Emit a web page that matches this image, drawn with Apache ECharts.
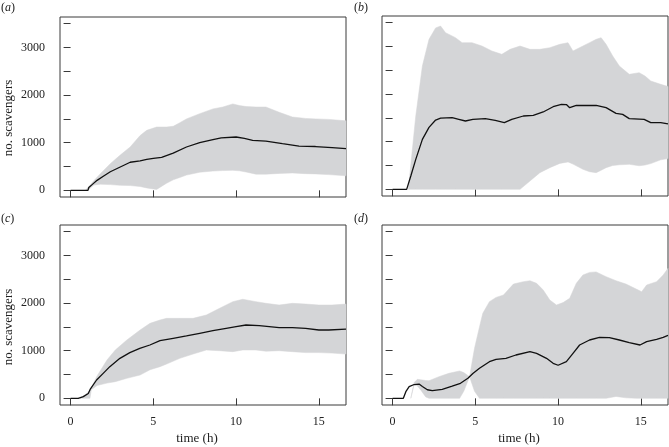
<!DOCTYPE html>
<html>
<head>
<meta charset="utf-8">
<script src="https://cdn.jsdelivr.net/npm/echarts@6/dist/echarts.min.js"></script>
<style>html,body{margin:0;padding:0;background:#fff}#c{width:669px;height:447px}</style>
</head>
<body>
<div id="c"></div>
<script>
// ---------- data ----------
const xTicks = [0, 5, 10, 15];
const yTicks = [0, 500, 1000, 1500, 2000, 2500, 3000, 3500];
const yLabels = [0, 1000, 2000, 3000];

// panel (a)
const meanTA = [0, 1.05, 1.1, 1.3, 1.6, 2.0, 2.4, 3.0, 3.6, 4.2, 4.6, 5.0, 5.5, 6.2, 7.0, 7.8, 8.6, 9.1, 10.0, 10.5, 11.0, 11.8, 12.8, 13.8, 14.8, 15.8, 16.64];
const meanA  = [0, 0, 60, 120, 210, 300, 390, 490, 590, 620, 650, 670, 690, 780, 910, 1000, 1065, 1100, 1120, 1090, 1050, 1035, 980, 930, 920, 895, 875];
const bandTA = [0.9, 1.1, 1.4, 1.8, 2.4, 3.0, 3.6, 4.2, 4.6, 5.2, 5.8, 6.2, 6.6, 7.0, 7.8, 8.6, 9.2, 9.8, 10.2, 10.6, 11.2, 11.8, 12.6, 13.4, 14.2, 14.8, 15.6, 16.64];
const hiA    = [0, 80, 200, 350, 560, 740, 910, 1150, 1260, 1330, 1330, 1345, 1420, 1500, 1610, 1710, 1750, 1815, 1780, 1760, 1750, 1750, 1640, 1540, 1510, 1500, 1490, 1460];
const loA    = [0, 20, 110, 130, 120, 105, 100, 80, 50, 20, 150, 220, 270, 320, 380, 405, 415, 420, 410, 385, 340, 340, 355, 365, 350, 345, 330, 305];

// panel (b)
const meanTB = [0, 0.85, 1.1, 1.4, 1.8, 2.2, 2.6, 2.9, 3.6, 4.0, 4.4, 4.85, 5.6, 6.2, 6.75, 7.2, 7.9, 8.5, 9.1, 9.7, 10.2, 10.5, 10.7, 11.1, 11.7, 12.3, 12.9, 13.5, 13.9, 14.3, 15.2, 15.6, 16.2, 16.64];
const meanB  = [0, 0, 280, 630, 1050, 1300, 1455, 1495, 1505, 1470, 1435, 1470, 1485, 1450, 1400, 1470, 1540, 1555, 1625, 1735, 1785, 1780, 1715, 1765, 1760, 1765, 1715, 1595, 1575, 1485, 1470, 1400, 1400, 1375];
const bandTB = [0.95, 1.4, 1.8, 2.2, 2.6, 2.9, 3.2, 3.8, 4.2, 4.8, 5.4, 6.0, 6.6, 7.1, 7.7, 8.3, 8.9, 9.5, 10.1, 10.6, 10.9, 11.5, 11.9, 12.3, 12.6, 12.9, 13.3, 13.7, 14.3, 14.9, 15.25, 15.6, 16.2, 16.64];
const hiB    = [0, 1540, 2590, 3150, 3390, 3430, 3290, 3185, 3080, 3080, 3010, 2905, 2835, 2940, 3010, 2940, 2940, 2975, 3045, 3080, 2905, 3010, 3080, 3150, 3185, 3045, 2800, 2590, 2415, 2450, 2380, 2275, 2205, 2160];
const loB    = [0, 0, 0, 0, 0, 0, 0, 0, 0, 0, 0, 0, 0, 0, 0, 175, 350, 455, 545, 575, 530, 420, 370, 350, 400, 455, 500, 515, 525, 495, 510, 540, 620, 645];

// panel (c)
const meanTC = [0, 0.46, 0.77, 1.07, 1.2, 1.57, 1.97, 2.37, 2.98, 3.58, 4.18, 4.79, 5.4, 6.2, 7.0, 7.8, 8.6, 9.4, 10.0, 10.6, 11.4, 12.0, 12.6, 13.4, 14.2, 15.0, 15.6, 16.64];
const meanC  = [0, 0, 35, 100, 200, 385, 525, 665, 840, 960, 1050, 1120, 1210, 1260, 1310, 1365, 1420, 1470, 1505, 1540, 1525, 1505, 1485, 1485, 1470, 1435, 1435, 1455];
const bandTC = [0.55, 0.9, 1.17, 1.25, 1.6, 2.2, 2.7, 3.4, 4.2, 4.8, 5.4, 5.8, 6.6, 7.4, 8.2, 9.0, 9.8, 10.4, 11.2, 11.8, 12.6, 13.4, 14.2, 15.0, 15.8, 16.64];
const hiC    = [0, 80, 175, 220, 470, 805, 1015, 1225, 1435, 1575, 1645, 1680, 1680, 1680, 1750, 1890, 2030, 2080, 2030, 1995, 1960, 1995, 1980, 1960, 1960, 1980];
const loC    = [0, 0, 0, 180, 270, 320, 350, 420, 490, 600, 665, 720, 840, 930, 1015, 1000, 980, 1015, 1015, 990, 1000, 980, 960, 960, 950, 930];

// panel (d)
const meanTD = [0, 0.65, 0.8, 1.0, 1.3, 1.6, 1.8, 2.1, 2.4, 3.0, 3.6, 4.1, 4.55, 4.85, 5.25, 5.85, 6.25, 6.85, 7.45, 8.3, 8.7, 9.3, 9.7, 10.0, 10.5, 10.9, 11.3, 11.9, 12.5, 13.1, 13.7, 14.3, 14.95, 15.35, 15.95, 16.35, 16.64];
const meanD  = [0, 0, 140, 245, 290, 300, 250, 180, 160, 190, 255, 315, 420, 520, 630, 770, 820, 840, 910, 980, 945, 840, 735, 695, 770, 945, 1120, 1225, 1280, 1275, 1225, 1170, 1120, 1190, 1240, 1280, 1320];
const bandTD = [1.1, 1.3, 1.5, 1.7, 2.0, 2.2, 2.8, 3.4, 4.05, 4.3, 4.65, 4.95, 5.25, 5.45, 5.85, 6.25, 6.7, 7.3, 7.9, 8.3, 8.7, 9.1, 9.5, 9.9, 10.3, 10.7, 11.1, 11.5, 11.9, 12.3, 12.9, 13.5, 14.1, 14.75, 15.05, 15.35, 15.95, 16.35, 16.64];
const hiD    = [0, 330, 400, 390, 375, 370, 455, 525, 575, 540, 455, 1050, 1500, 1785, 2030, 2120, 2170, 2400, 2450, 2470, 2415, 2275, 2065, 1960, 2010, 2100, 2415, 2590, 2645, 2655, 2555, 2470, 2400, 2290, 2240, 2380, 2450, 2590, 2730];
const loD    = [0, 290, 260, 175, 30, 0, 0, 0, 0, 150, 455, 150, 0, 0, 0, 0, 0, 0, 0, 0, 0, 0, 0, 0, 0, 0, 0, 0, 0, 0, 0, 40, 10, 0, 0, 0, 0, 0, 0];

// ---------- chart ----------
const FONT = 'Liberation Serif';
const TXT = '#222';
const BOX = '#3a3a3a';
const BAND = '#d4d5d7';

const panels = [
  {left: 60,  top: 17,  showX: false, showY: true,  meanT: meanTA, mean: meanA, bandT: bandTA, lo: loA, hi: hiA},
  {left: 382, top: 16,  showX: false, showY: false, meanT: meanTB, mean: meanB, bandT: bandTB, lo: loB, hi: hiB},
  {left: 60,  top: 225, showX: true,  showY: true,  meanT: meanTC, mean: meanC, bandT: bandTC, lo: loC, hi: hiC},
  {left: 382, top: 225, showX: true,  showY: false, meanT: meanTD, mean: meanD, bandT: bandTD, lo: loD, hi: hiD}
];

const grid = [], xAxis = [], yAxis = [], series = [];
panels.forEach((p, i) => {
  grid.push({left: p.left, top: p.top, width: 286, height: 180, show: true,
    borderColor: BOX, borderWidth: 1, backgroundColor: 'transparent'});
  xAxis.push({type: 'value', gridIndex: i, min: -0.64, max: 16.64,
    axisLine: {show: false}, splitLine: {show: false},
    axisTick: {show: true, inside: false, length: 7, customValues: xTicks, lineStyle: {color: BOX, width: 1}},
    axisLabel: {show: p.showX, customValues: xTicks, formatter: v => String(v),
      fontFamily: FONT, fontSize: 12, color: TXT, margin: 11}
  });
  yAxis.push({type: 'value', gridIndex: i, min: -140, max: 3640,
    axisLine: {show: false}, splitLine: {show: false},
    axisTick: {show: true, inside: false, length: 7, customValues: yTicks, lineStyle: {color: BOX, width: 1}},
    axisLabel: {show: p.showY, customValues: yLabels, formatter: v => String(v),
      fontFamily: FONT, fontSize: 12, color: TXT, margin: 15}
  });
  const bandData = p.bandT.map((t, k) => [t, p.lo[k], p.hi[k]]);
  series.push({
    type: 'custom', xAxisIndex: i, yAxisIndex: i, data: bandData, silent: true, z: 1,
    encode: {x: 0, y: [1, 2]},
    renderItem: function (params, api) {
      if (params.dataIndexInside !== 0) return null;
      const n = bandData.length;
      const up = [], dn = [];
      for (let k = 0; k < n; k++) {
        up.push(api.coord([api.value(0, k), api.value(2, k)]));
        dn.push(api.coord([api.value(0, k), api.value(1, k)]));
      }
      return {type: 'polygon', shape: {points: up.concat(dn.reverse())}, style: {fill: BAND, stroke: BAND, lineWidth: 0.5}};
    }
  });
  series.push({
    type: 'line', xAxisIndex: i, yAxisIndex: i, z: 3, silent: true,
    data: p.meanT.map((t, k) => [t, p.mean[k]]),
    showSymbol: false, symbol: 'none', smooth: false,
    lineStyle: {color: '#111', width: 1.3}
  });
});

function panelLabel(letter, x, y) {
  return {type: 'text', left: x, top: y, silent: true,
    style: {text: '(' + '{i|' + letter + '})', font: '12px "Liberation Serif"', fill: TXT,
      rich: {i: {fontStyle: 'italic', fontFamily: FONT, fontSize: 12, fill: TXT}}}};
}
function yTitle(y) {
  return {type: 'text', x: 9, y: y, rotation: Math.PI / 2, silent: true,
    style: {text: 'no. scavengers', font: '13px "Liberation Serif"', fill: TXT, align: 'center', verticalAlign: 'middle'}};
}
function xTitle(x) {
  return {type: 'text', x: x, y: 439, silent: true,
    style: {text: 'time (h)', font: '13px "Liberation Serif"', fill: TXT, align: 'center', verticalAlign: 'middle'}};
}

const chart = echarts.init(document.getElementById('c'), null, {renderer: 'canvas'});
chart.setOption({
  animation: false,
  backgroundColor: '#fff',
  textStyle: {fontFamily: FONT},
  grid, xAxis, yAxis, series,
  graphic: [
    panelLabel('a', 1, 2), panelLabel('b', 354, 2), panelLabel('c', 1, 213), panelLabel('d', 354, 213),
    yTitle(118), yTitle(327), xTitle(197), xTitle(519)
  ]
});
</script>
</body>
</html>
